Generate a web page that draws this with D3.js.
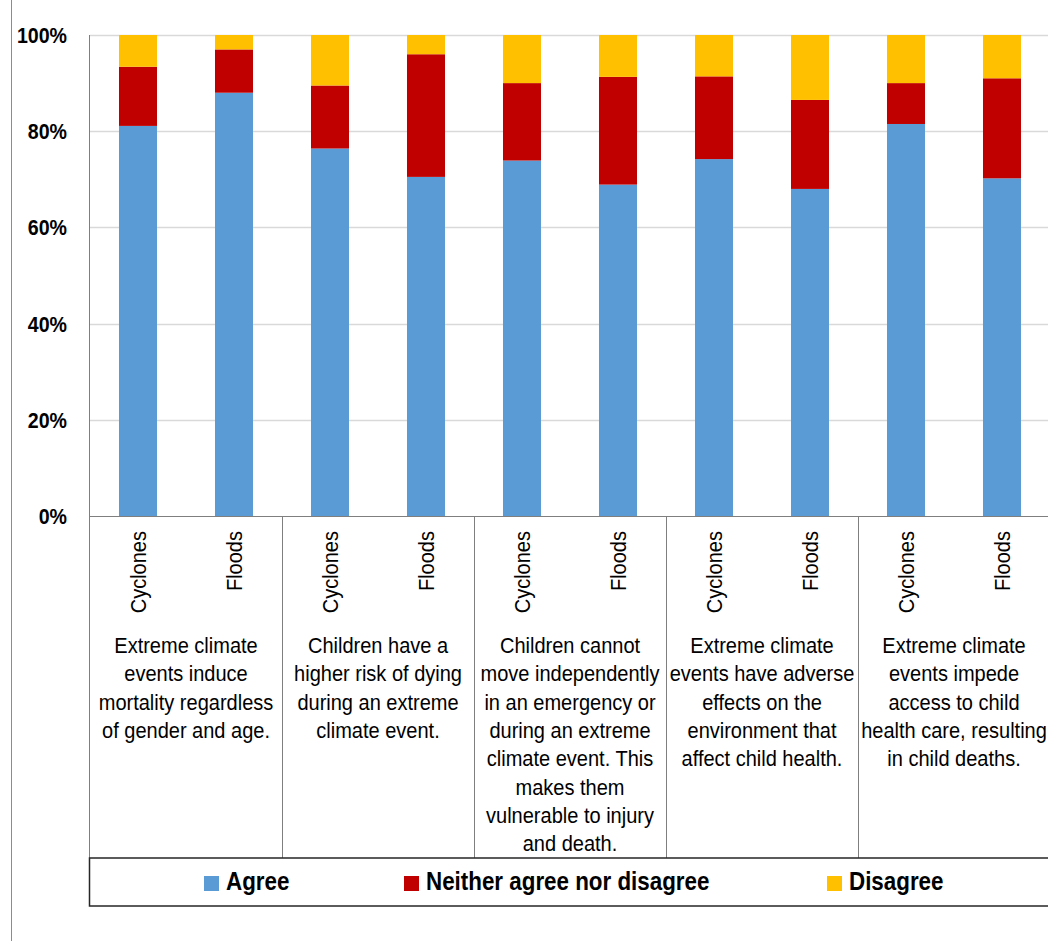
<!DOCTYPE html>
<html>
<head>
<meta charset="utf-8">
<script src="https://cdn.jsdelivr.net/npm/d3@7"></script>
<style>
  html, body { margin: 0; padding: 0; background: #fff; }
  svg { display: block; font-family: "Liberation Sans", Arial, sans-serif; }
</style>
</head>
<body>
<svg id="chart" width="1048" height="941"></svg>
<script>
// Statements (one group of two bars each), wrapped into lines
const statements = [
  ["Extreme climate", "events induce", "mortality regardless", "of gender and age."],
  ["Children have a", "higher risk of dying", "during an extreme", "climate event."],
  ["Children cannot", "move independently", "in an emergency or", "during an extreme", "climate event. This", "makes them", "vulnerable to injury", "and death."],
  ["Extreme climate", "events have adverse", "effects on the", "environment that", "affect child health."],
  ["Extreme climate", "events impede", "access to child", "health care, resulting", "in child deaths."]
];
const events = ["Cyclones", "Floods"];

// Share of respondents (%) per bar, in statement order, Cyclones then Floods
const agree    = [81.1, 88.0, 76.4, 70.5, 73.9, 68.9, 74.2, 68.0, 81.5, 70.2];
const neither  = [12.3,  9.0, 13.1, 25.5, 16.1, 22.4, 17.2, 18.5,  8.5, 20.8];
const disagree = [ 6.6,  3.0, 10.5,  4.0, 10.0,  8.7,  8.6, 13.5, 10.0,  9.0];

const seriesNames = ["Agree", "Neither agree nor disagree", "Disagree"];
const seriesColors = ["#5B9BD5", "#C00000", "#FFC000"];
const yTicks = [0, 20, 40, 60, 80, 100];

const svg = d3.select("#chart");
const W = 1048, H = 941;
const plot = { left: 90, right: 1050, top: 35, bottom: 516 };
const tableBottom = 858, legendBottom = 906;

// One row per bar
const rows = [];
statements.forEach((s, gi) => {
  events.forEach((e, ei) => {
    const i = gi * 2 + ei;
    rows.push({ key: i, group: gi, event: e, Agree: agree[i], "Neither agree nor disagree": neither[i], Disagree: disagree[i] });
  });
});

const x = d3.scaleBand()
  .domain(rows.map(d => d.key))
  .range([plot.left, plot.right])
  .paddingInner(0.604)
  .paddingOuter(0.302);

const y = d3.scaleLinear().domain([0, 100]).range([plot.bottom, plot.top]);

const color = d3.scaleOrdinal().domain(seriesNames).range(seriesColors);

// text in a condensed look: squeezed along the writing direction
function label(parent, px, py, str, opts) {
  const o = Object.assign({ size: 22, weight: "normal", anchor: "middle", rotate: 0, fill: "#000", squeeze: 0.91 }, opts || {});
  const g = parent.append("g")
    .attr("transform", `translate(${px},${py}) rotate(${o.rotate}) scale(${o.squeeze},1)`);
  g.append("text")
    .attr("text-anchor", o.anchor)
    .attr("font-size", o.size)
    .attr("font-weight", o.weight)
    .attr("fill", o.fill)
    .text(str);
  return g;
}

// outer frame edge on the left
svg.append("line")
  .attr("x1", 11.5).attr("x2", 11.5).attr("y1", 0).attr("y2", H)
  .attr("stroke", "#8c8c8c").attr("stroke-width", 1);

// gridlines
svg.append("g").selectAll("line")
  .data(yTicks.filter(t => t > 0))
  .join("line")
  .attr("x1", plot.left).attr("x2", W)
  .attr("y1", d => Math.round(y(d)) + 0.5).attr("y2", d => Math.round(y(d)) + 0.5)
  .attr("stroke", "#d9d9d9").attr("stroke-width", 1.5);

// y tick labels
const yLabels = svg.append("g");
yTicks.forEach(t => {
  label(yLabels, 67, y(t) + 8, t + "%", { anchor: "end", weight: "bold", size: 22, squeeze: 0.89 });
});

// stacked bars
const stack = d3.stack().keys(seriesNames);
const layers = stack(rows);
svg.append("g").selectAll("g")
  .data(layers)
  .join("g")
  .attr("fill", d => color(d.key))
  .selectAll("rect")
  .data(d => d)
  .join("rect")
  .attr("x", d => x(d.data.key))
  .attr("width", x.bandwidth())
  .attr("y", d => y(d[1]))
  .attr("height", d => y(d[0]) - y(d[1]));

// axis lines and table grid
const grid = svg.append("g").attr("stroke", "#7f7f7f").attr("stroke-width", 1);
grid.append("line")
  .attr("x1", plot.left - 0.5).attr("x2", plot.left - 0.5)
  .attr("y1", plot.top).attr("y2", legendBottom);
grid.append("line")
  .attr("x1", plot.left).attr("x2", W)
  .attr("y1", plot.bottom + 0.5).attr("y2", plot.bottom + 0.5);

const groupEdges = d3.range(1, statements.length).map(g => (x(g * 2 - 1) + x.bandwidth() + x(g * 2)) / 2);
grid.selectAll("line.sep")
  .data(groupEdges)
  .join("line")
  .attr("class", "sep")
  .attr("x1", d => Math.round(d) + 0.5).attr("x2", d => Math.round(d) + 0.5)
  .attr("y1", plot.bottom).attr("y2", tableBottom);

// event labels (rotated)
const evLabels = svg.append("g");
rows.forEach(r => {
  const cx = x(r.key) + x.bandwidth() / 2;
  label(evLabels, cx + 8, plot.bottom + 15, r.event, { anchor: "end", rotate: -90, size: 22 });
});

// statement labels
const stLabels = svg.append("g");
statements.forEach((lines, gi) => {
  const cx = (x(gi * 2) + x(gi * 2 + 1) + x.bandwidth()) / 2;
  lines.forEach((ln, li) => {
    label(stLabels, cx, 653 + li * 28.3, ln, { size: 22 });
  });
});

// legend box
svg.append("rect")
  .attr("x", plot.left - 0.5).attr("y", tableBottom)
  .attr("width", W + 10 - plot.left).attr("height", legendBottom - tableBottom)
  .attr("fill", "none").attr("stroke", "#262626").attr("stroke-width", 1.5);

const legendX = [204, 404, 827];
const legend = svg.append("g");
seriesNames.forEach((name, i) => {
  legend.append("rect")
    .attr("x", legendX[i]).attr("y", 876)
    .attr("width", 15).attr("height", 15)
    .attr("fill", color(name));
  label(legend, legendX[i] + 22, 890, name, { anchor: "start", weight: "bold", size: 25, squeeze: 0.895 });
});
</script>
</body>
</html>
